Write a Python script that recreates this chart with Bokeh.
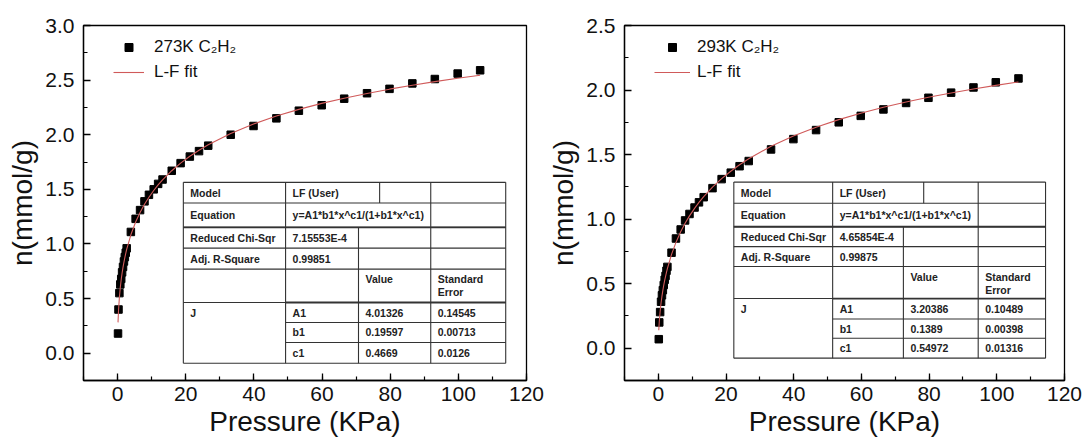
import math
from bokeh.plotting import figure
from bokeh.layouts import row
from bokeh.models import (Range1d, SingleIntervalTicker, NumeralTickFormatter,
                          Legend, LegendItem, ColumnDataSource)
from bokeh.core.properties import value
from bokeh.embed import file_html
from bokeh.resources import INLINE

# ---------------- data ----------------
pressure_273 = [0.13, 0.27, 0.53, 0.8, 1.07, 1.33, 1.6, 1.87, 2.13, 2.4, 2.67,
                3.9, 5.3, 6.6, 7.9, 9.2, 10.6, 11.9, 13.2, 15.9, 18.5, 21.2,
                23.9, 26.6, 33.2, 39.9, 46.6, 53.2, 59.9, 66.5, 73.2, 79.8,
                86.5, 93.1, 99.8, 106.4]
uptake_273 = [0.18, 0.40, 0.55, 0.63, 0.68, 0.74, 0.79, 0.84, 0.88, 0.92, 0.96,
              1.11, 1.23, 1.31, 1.39, 1.45, 1.50, 1.55, 1.59, 1.67, 1.74, 1.80,
              1.85, 1.90, 2.00, 2.08, 2.15, 2.22, 2.27, 2.33, 2.38, 2.42,
              2.47, 2.51, 2.56, 2.59]

pressure_293 = [0.13, 0.27, 0.53, 0.8, 1.07, 1.33, 1.6, 1.87, 2.13, 2.4, 2.67,
                3.9, 5.2, 6.6, 7.9, 9.2, 10.7, 12.0, 13.4, 16.0, 18.7, 21.4,
                24.0, 26.7, 33.3, 39.9, 46.6, 53.3, 59.8, 66.5, 73.2, 79.8,
                86.5, 93.1, 99.7, 106.4]
uptake_293 = [0.07, 0.20, 0.28, 0.36, 0.41, 0.45, 0.49, 0.53, 0.56, 0.60, 0.63,
              0.74, 0.85, 0.92, 0.99, 1.04, 1.09, 1.13, 1.17, 1.24, 1.31, 1.36,
              1.41, 1.45, 1.54, 1.62, 1.69, 1.75, 1.80, 1.85, 1.90, 1.94,
              1.98, 2.02, 2.06, 2.09]

# fitted L-F parameters printed in the tables
fit_273 = {"A1": 4.01326, "b1": 0.19597, "c1": 0.4669}
fit_293 = {"A1": 3.20386, "b1": 0.1389, "c1": 0.54972}

series_labels = ["273K C\u2082H\u2082", "293K C\u2082H\u2082"]
fit_label = "L-F fit"

table_273 = {"chi": "7.15553E-4", "r2": "0.99851",
             "vals": ["4.01326", "0.19597", "0.4669"],
             "errs": ["0.14545", "0.00713", "0.0126"]}
table_293 = {"chi": "4.65854E-4", "r2": "0.99875",
             "vals": ["3.20386", "0.1389", "0.54972"],
             "errs": ["0.10489", "0.00398", "0.01316"]}
param_names = ["A1", "b1", "c1"]

x_ticks_interval = 20
y_ticks_interval = 0.5

FONT = "Liberation Sans"


def lf(x, prm):
    t = prm["b1"] * x ** prm["c1"]
    return prm["A1"] * t / (1 + t)


def make_panel(px, py, fit, label, tbl, ymax, width, bl, br, cols, split, rows,
               leg_x, glyph_w, standoff):
    p = figure(width=width, height=439, x_range=Range1d(-10, 120),
               y_range=Range1d(-0.25, ymax), output_backend="svg",
               toolbar_location=None, min_border_left=bl, min_border_right=br,
               min_border_top=25, min_border_bottom=57)
    p.xgrid.visible = False
    p.ygrid.visible = False
    p.outline_line_color = "black"
    p.outline_line_width = 1.3
    p.background_fill_color = "white"
    p.border_fill_color = "white"

    p.xaxis.ticker = SingleIntervalTicker(interval=x_ticks_interval, num_minor_ticks=2)
    p.yaxis.ticker = SingleIntervalTicker(interval=y_ticks_interval, num_minor_ticks=2)
    p.yaxis.formatter = NumeralTickFormatter(format="0.0")
    p.xaxis.axis_label = "Pressure (KPa)"
    p.yaxis.axis_label = "n(mmol/g)"
    for ax in (p.xaxis[0], p.yaxis[0]):
        ax.axis_line_width = 1.3
        ax.axis_line_color = "black"
        ax.major_tick_in = 7
        ax.major_tick_out = 0
        ax.minor_tick_in = 4
        ax.minor_tick_out = 0
        ax.major_tick_line_width = 1.3
        ax.minor_tick_line_width = 1.2
        ax.major_tick_line_color = "black"
        ax.minor_tick_line_color = "black"
        ax.major_label_text_font = FONT
        ax.major_label_text_font_size = "21px"
        ax.major_label_text_color = "#111111"
        ax.axis_label_text_font = FONT
        ax.axis_label_text_font_size = "28px"
        ax.axis_label_text_font_style = "normal"
        ax.axis_label_text_color = "#111111"
    p.xaxis.major_label_standoff = 6
    p.xaxis.axis_label_standoff = 2
    p.yaxis.major_label_standoff = 9
    p.yaxis.axis_label_standoff = 4

    sc = p.scatter(px, py, marker="square", size=7.5, color="black")
    fit_y = [lf(x, fit) for x in px]
    ln = p.line(px, fit_y, line_color="#d05a5a", line_width=1.1)

    # ---- parameter table ----
    c0, c1_, c2, c3, c4 = cols
    r = rows
    p.quad(left=[c0], right=[c4], top=[r[0]], bottom=[r[8]],
           fill_color="white", line_color=None)
    hx0, hx1, hy = [], [], []
    for i in (0, 1, 2, 3, 4, 5, 8):
        hx0.append(c0); hx1.append(c4); hy.append(r[i])
    for i in (6, 7):
        hx0.append(c1_); hx1.append(c4); hy.append(r[i])
    p.segment(x0=hx0, x1=hx1, y0=hy, y1=hy, line_color="#333333", line_width=1.1)
    p.segment(x0=[c0, c1_], x1=[c4, c4], y0=[r[2], r[5]], y1=[r[2], r[5]],
              line_color="#333333", line_width=1.8)
    vx = [c0, c1_, split, c2, c3, c4]
    vtop = [r[0], r[0], r[0], r[2], r[0], r[0]]
    vbot = [r[8], r[8], r[1], r[8], r[8], r[8]]
    p.segment(x0=vx, x1=vx, y0=vtop, y1=vbot, line_color="#333333", line_width=1.1)

    def mid(i):
        return (r[i] + r[i + 1]) / 2

    tx, ty, tt, tyo = [], [], [], []

    def add(x, y, t, yo=0):
        tx.append(x); ty.append(y); tt.append(t); tyo.append(yo)

    add(c0, mid(0), "Model"); add(c1_, mid(0), "LF (User)")
    add(c0, mid(1), "Equation"); add(c1_, mid(1), "y=A1*b1*x^c1/(1+b1*x^c1)")
    add(c0, mid(2), "Reduced Chi-Sqr"); add(c1_, mid(2), tbl["chi"])
    add(c0, mid(3), "Adj. R-Square"); add(c1_, mid(3), tbl["r2"])
    add(c2, r[4], "Value", 10); add(c3, r[4], "Standard", 10); add(c3, r[4], "Error", 23)
    add(c0, mid(5), "J")
    for k in range(3):
        add(c1_, mid(5 + k), param_names[k])
        add(c2, mid(5 + k), tbl["vals"][k])
        add(c3, mid(5 + k), tbl["errs"][k])
    src = ColumnDataSource(dict(x=tx, y=ty, t=tt, yo=tyo))
    p.text(x="x", y="y", text="t", y_offset="yo", source=src, x_offset=7,
           text_font=value(FONT), text_font_style="bold", text_font_size="10.5px",
           text_baseline="middle", text_align="left", text_color="#222222")

    legend = Legend(items=[LegendItem(label=label, renderers=[sc]),
                           LegendItem(label=fit_label, renderers=[ln])],
                    location=(leg_x, 298), padding=0, margin=0, spacing=5,
                    glyph_width=glyph_w, glyph_height=20, label_height=20,
                    label_standoff=standoff, border_line_color=None,
                    background_fill_alpha=0,
                    label_text_font=FONT, label_text_font_size="17px",
                    label_text_color="#111111")
    p.add_layout(legend)
    return p


p1 = make_panel(pressure_273, uptake_273, fit_273, series_labels[0], table_273, 3.0,
                545, 83, 19,
                [19.3, 49.3, 70.7, 91.9, 113.9], 76.9,
                [1.564, 1.375, 1.152, 0.962, 0.770, 0.464, 0.281, 0.098, -0.092],
                30, 31, 10)
p2 = make_panel(pressure_293, uptake_293, fit_293, series_labels[1], table_293, 2.5,
                540, 76, 21,
                [22.3, 51.5, 72.4, 94.5, 114.4], 78.4,
                [1.287, 1.123, 0.941, 0.787, 0.633, 0.385, 0.226, 0.077, -0.077],
                30, 36, 7)

layout = row(p1, p2)
open("out.html", "w").write(file_html(layout, INLINE))
